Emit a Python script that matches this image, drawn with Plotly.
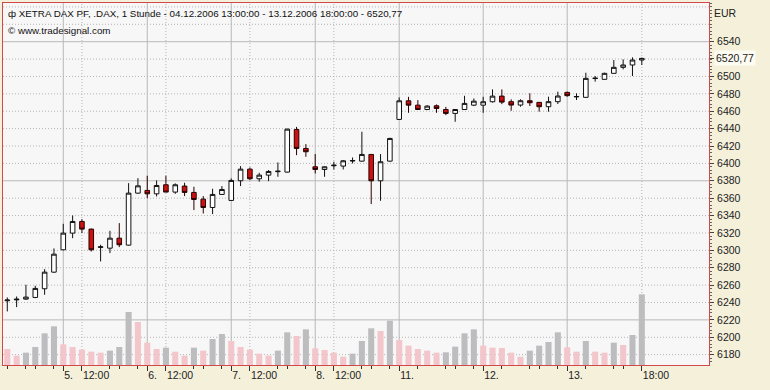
import plotly.graph_objects as go

# ---------------- data ----------------
OPEN = [6242.0, 6243.0, 6243.9, 6245.8, 6255.8, 6274.9, 6300.6, 6319.8, 6333.2, 6324.4,
        6303.4, 6302.5, 6314.0, 6306.0, 6365.8, 6368.9, 6365.0, 6375.4, 6367.0, 6373.9,
        6366.6, 6358.9, 6349.3, 6364.3, 6357.4, 6380.0, 6393.4, 6382.3, 6386.5, 6390.5,
        6390.0, 6439.0, 6417.2, 6396.1, 6393.0, 6397.3, 6396.9, 6402.8, 6402.6, 6410.3,
        6380.0, 6402.6, 6450.6, 6472.0, 6467.0, 6462.0, 6466.3, 6462.0, 6457.5, 6462.0,
        6467.0, 6467.0, 6470.9, 6477.4, 6471.0, 6467.1, 6472.1, 6470.2, 6465.2, 6471.0,
        6481.7, 6476.5, 6476.0, 6497.6, 6496.7, 6503.6, 6510.5, 6513.2, 6518.9]
HIGH = [6245.8, 6246.9, 6260.4, 6259.2, 6278.4, 6302.2, 6330.5, 6340.1, 6335.9, 6325.0,
        6306.4, 6322.5, 6331.3, 6377.3, 6383.0, 6385.8, 6380.4, 6385.8, 6377.0, 6377.7,
        6373.1, 6362.4, 6370.8, 6373.9, 6382.7, 6396.9, 6395.3, 6389.2, 6392.3, 6401.1,
        6440.0, 6442.0, 6422.2, 6410.7, 6396.5, 6401.9, 6403.8, 6406.8, 6436.4, 6410.6,
        6410.7, 6429.5, 6475.9, 6476.6, 6472.8, 6467.0, 6467.8, 6465.0, 6462.2, 6477.8,
        6474.7, 6476.6, 6485.1, 6485.1, 6473.7, 6473.7, 6480.6, 6470.6, 6476.7, 6482.5,
        6482.5, 6480.6, 6504.3, 6500.5, 6504.3, 6518.9, 6519.7, 6522.0, 6521.6]
LOW = [6229.7, 6234.7, 6243.1, 6245.0, 6248.9, 6274.2, 6300.0, 6314.0, 6319.8, 6298.7,
       6287.2, 6296.8, 6303.7, 6305.5, 6365.0, 6360.0, 6362.0, 6367.0, 6365.0, 6362.4,
       6346.3, 6342.4, 6341.7, 6364.0, 6357.0, 6373.9, 6380.8, 6379.0, 6379.6, 6384.6,
       6389.5, 6409.5, 6407.6, 6388.4, 6384.6, 6393.0, 6393.0, 6400.0, 6402.0, 6353.2,
       6357.0, 6402.0, 6450.0, 6458.2, 6461.8, 6461.3, 6458.2, 6455.5, 6447.9, 6461.8,
       6465.9, 6458.2, 6470.0, 6468.2, 6460.6, 6465.2, 6466.0, 6459.5, 6459.5, 6468.3,
       6476.7, 6472.9, 6475.8, 6494.0, 6496.5, 6503.4, 6508.2, 6500.5, 6513.2]
CLOSE = [6242.8, 6243.8, 6246.2, 6256.2, 6274.9, 6295.6, 6319.8, 6333.2, 6324.4, 6300.6,
         6304.0, 6314.0, 6306.4, 6365.8, 6374.2, 6365.0, 6374.6, 6367.0, 6375.4, 6366.6,
         6358.5, 6349.3, 6364.3, 6370.0, 6380.4, 6393.4, 6382.3, 6386.5, 6390.7, 6391.0,
         6439.4, 6417.2, 6413.4, 6393.0, 6396.1, 6397.9, 6403.0, 6403.2, 6410.3, 6380.0,
         6401.9, 6428.7, 6472.0, 6467.0, 6462.0, 6465.9, 6463.2, 6457.5, 6462.0, 6469.0,
         6471.6, 6470.9, 6477.4, 6470.5, 6467.1, 6472.1, 6469.8, 6465.2, 6471.0, 6477.5,
         6477.9, 6476.9, 6497.8, 6498.0, 6503.6, 6510.5, 6513.2, 6518.9, 6520.77]
VOLUME = [48, 28, 37, 54, 95, 116, 62, 54, 46, 40,
          37, 43, 54, 159, 129, 67, 48, 52, 40, 28,
          52, 43, 78, 93, 72, 54, 46, 34, 28, 43,
          98, 87, 107, 50, 45, 37, 25, 34, 72, 110,
          102, 133, 75, 58, 48, 43, 37, 38, 55, 95,
          107, 58, 52, 51, 37, 25, 43, 58, 69, 98,
          53, 40, 72, 40, 37, 67, 60, 90, 212]

DAY_LABELS = ["5.", "6.", "7.", "8.", "11.", "12.", "13."]
DAY_START = [6, 15, 24, 33, 42, 51, 60]
NOON_LABEL = "12:00"
NOON_IDX = [8, 17, 26, 35]
END_LABEL = "18:00"
END_IDX = 68
MINOR_TICK_IDX = [0, 2, 3, 5, 11, 12, 14, 20, 21, 23, 29, 30, 32, 38, 39, 41,
                  44, 47, 48, 50, 53, 56, 57, 59, 62, 65, 66]
Y_LABELS = list(range(6180, 6541, 20))
GRID_LEVELS = list(range(6180, 6581, 20))
SOLID_LEVELS = [6220, 6380, 6540]
TITLE = "XETRA DAX PF, .DAX, 1 Stunde - 04.12.2006 13:00:00 - 13.12.2006 18:00:00 - "
SOURCE = "www.tradesignal.com"
CURRENCY = "EUR"

# ---------------- figure ----------------
x = list(range(len(CLOSE)))
last = CLOSE[-1]
last_txt = f"{last:.2f}".replace(".", ",")

vol_colors = ["#f2c6cb"]
for i in range(1, len(VOLUME)):
    vol_colors.append("#bdbdbf" if VOLUME[i] > VOLUME[i - 1] else "#f2c6cb")

FONT = "Liberation Sans"
fig = go.Figure()
fig.add_trace(go.Bar(x=x, y=VOLUME, yaxis="y2", marker=dict(color=vol_colors, line=dict(width=0)),
                     width=0.65, hoverinfo="skip", showlegend=False))
fig.add_trace(go.Candlestick(
    x=x, open=OPEN, high=HIGH, low=LOW, close=CLOSE, whiskerwidth=0,
    increasing=dict(line=dict(color="#111111", width=1), fillcolor="#ffffff"),
    decreasing=dict(line=dict(color="#2a0000", width=1), fillcolor="#cc1111"),
    showlegend=False))

# tick labels for x
tick_vals, tick_text = [], []
for d, lab in zip(DAY_START, DAY_LABELS):
    tick_vals.append(d); tick_text.append(lab)
for n in NOON_IDX:
    tick_vals.append(n); tick_text.append(NOON_LABEL)
tick_vals.append(END_IDX); tick_text.append(END_LABEL)

# y tick labels: skip the regular label that collides with the last price label
y_vals = [v for v in Y_LABELS if abs(v - last) > 8] + [last]
y_text = [str(v) for v in Y_LABELS if abs(v - last) > 8] + [""]

DOT = "1px,2px"
shapes = []
for d in DAY_START:
    shapes.append(dict(type="line", xref="x", yref="paper", x0=d, x1=d, y0=0, y1=1,
                       line=dict(color="#b8b8b8", width=1), layer="below"))
for n in NOON_IDX + [END_IDX]:
    shapes.append(dict(type="line", xref="x", yref="paper", x0=n, x1=n, y0=0, y1=1,
                       line=dict(color="#b4b4b4", width=1, dash=DOT), layer="below"))
for lv in GRID_LEVELS:
    solid = lv in SOLID_LEVELS
    shapes.append(dict(type="line", xref="paper", yref="y", x0=0, x1=1, y0=lv, y1=lv,
                       line=dict(color="#b8b8b8" if solid else "#b4b4b4", width=1,
                                 dash="solid" if solid else DOT), layer="below"))

border = "#d04a4a"
fig.update_layout(
    width=770, height=390,
    margin=dict(l=3, r=61, t=3, b=25),
    paper_bgcolor="#f4f0da", plot_bgcolor="#f7f7f7",
    font=dict(family=FONT, size=10.5, color="#222222"),
    shapes=shapes,
    bargap=0.3,
    xaxis=dict(range=[-0.46, 75.2], tickmode="array", tickvals=tick_vals, ticktext=tick_text,
               ticks="outside", ticklen=5, tickcolor="#333333", tickwidth=1,
               ticklabelposition="outside right",
               showgrid=False, zeroline=False, showline=True, linecolor=border, mirror=True,
               rangeslider=dict(visible=False),
               minor=dict(tickmode="array", tickvals=MINOR_TICK_IDX, ticks="outside", ticklen=3,
                          tickcolor="#333333", showgrid=False),
               tickfont=dict(family=FONT, size=10.5, color="#222222")),
    yaxis=dict(side="right", range=[6168.1, 6584.5], tickmode="array", tickvals=y_vals,
               ticktext=y_text, ticks="outside", ticklen=4, tickcolor="#444444",
               showgrid=False, zeroline=False, showline=True, linecolor=border, mirror=True,
               ticklabelstandoff=1,
               minor=dict(tickmode="linear", tick0=6180, dtick=4, ticks="outside", ticklen=2,
                          tickcolor="#666666", showgrid=False),
               tickfont=dict(family=FONT, size=10.5, color="#222222")),
    yaxis2=dict(overlaying="y", range=[0, 1086], visible=False),
    annotations=[
        dict(xref="paper", yref="paper", x=0, y=1, xshift=3, yshift=-3, xanchor="left", yanchor="top",
             text="ф " + TITLE + last_txt, showarrow=False,
             font=dict(family=FONT, size=9.8, color="#111111")),
        dict(xref="paper", yref="paper", x=0, y=1, xshift=3, yshift=-20, xanchor="left", yanchor="top",
             text="© " + SOURCE, showarrow=False,
             font=dict(family=FONT, size=9.8, color="#111111")),
        dict(xref="paper", yref="paper", x=1, y=1, xshift=3, yshift=-10, xanchor="left", yanchor="middle",
             text=CURRENCY, showarrow=False, font=dict(family=FONT, size=10.5, color="#222222")),
        dict(xref="paper", yref="y", x=1, y=last, xshift=5, xanchor="left", yanchor="middle",
             text=last_txt, showarrow=False, bgcolor="#fdfcf2", borderpad=1,
             font=dict(family=FONT, size=10.5, color="#222222")),
    ],
)

fig.write_html("out.html")
